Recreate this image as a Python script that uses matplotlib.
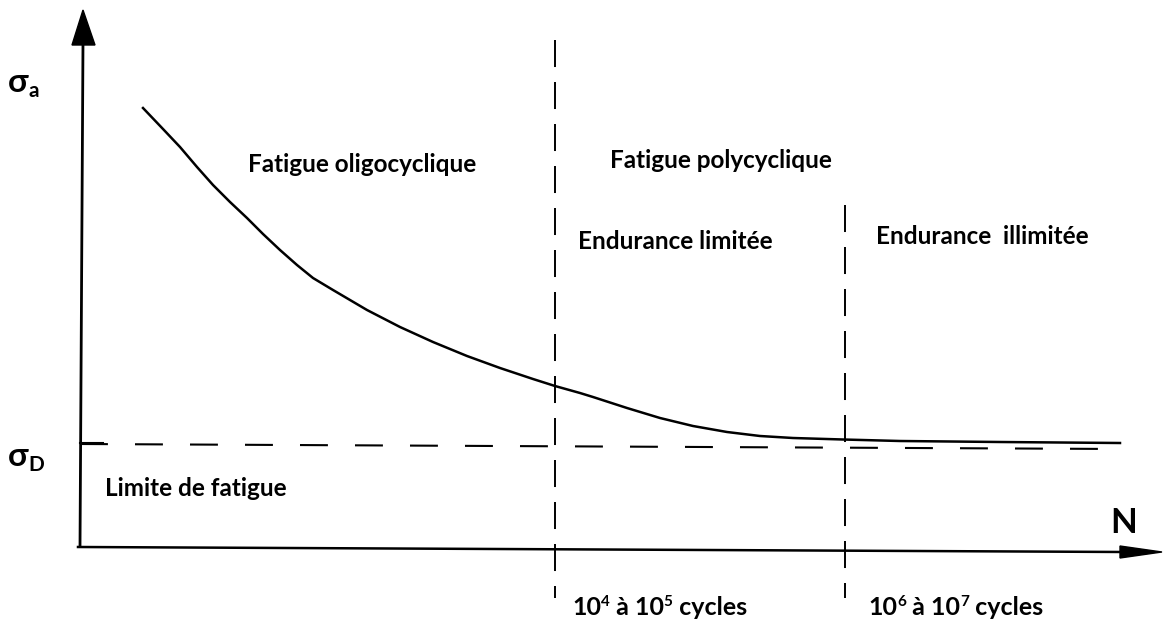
import matplotlib
matplotlib.use("Agg")
import matplotlib.pyplot as plt
from matplotlib.patches import Polygon

# ---- data (schematic coordinates, y grows downward) ----
curve_x = [143, 163, 180, 197, 213, 230, 247, 263, 280, 297, 313, 333, 350, 367, 400, 433,
           467, 500, 533, 555, 580, 593, 627, 660, 693, 727, 760, 793, 843, 900, 1000, 1120]
curve_y = [108, 129, 147, 167, 185, 202, 218, 234, 250, 265, 278, 290, 300, 310, 327, 342,
           356, 368, 379, 386, 393, 397, 408, 418, 426, 432, 436, 438, 439.5, 441, 442, 443]
limit_x = [80, 1120]
limit_y = [444, 449]
boundaries_x = [555, 845]
boundaries_top = [40, 205]
region_labels = ["Fatigue oligocyclique", "Fatigue polycyclique",
                 "Endurance limitée", "Endurance  illimitée", "Limite de fatigue"]

FONT = "Lato"
W, H = 1166, 620
fig = plt.figure(figsize=(W / 100, H / 100), dpi=100)
ax = fig.add_axes([0, 0, 1, 1])
ax.set_xlim(0, W)
ax.set_ylim(H, 0)
ax.axis("off")

# axes
ax.plot([80, 83], [547, 42], color="black", lw=2.0, solid_capstyle="butt")
ax.add_patch(Polygon([[83, 10], [72, 45], [95, 45]], closed=True, color="black"))
ax.plot([78, 1125], [547, 552], color="black", lw=1.8)
ax.add_patch(Polygon([[1162, 552], [1120, 546], [1120, 558]], closed=True, color="black"))
ax.plot([80, 103], [443, 443], color="black", lw=1.5)

# curve
ax.plot(curve_x, curve_y, color="black", lw=1.8, solid_joinstyle="round")

# fatigue limit (dashed)
ax.plot(limit_x, limit_y, color="black", lw=1.5, dashes=(13.4, 13))

# region boundaries (dashed verticals)
for bx, top in zip(boundaries_x, boundaries_top):
    ax.plot([bx, bx], [top, 598], color="black", lw=1.4, dashes=(13.9, 7.7))

fig.canvas.draw()
renderer = fig.canvas.get_renderer()


def rich(x, y, parts):
    """Draw a sequence of (text, size, dy) segments from left x, baseline y."""
    for txt, size, dy in parts:
        t = ax.text(x, y + dy, txt, fontsize=size, fontweight="bold",
                    family=FONT, va="baseline", ha="left", color="black")
        bb = t.get_window_extent(renderer)
        x += bb.width


kw = dict(fontsize=17.5, fontweight="bold", family=FONT, va="baseline", ha="left")
ax.text(248, 172, region_labels[0], **kw)
ax.text(610, 168, region_labels[1], **kw)
ax.text(578, 249, region_labels[2], **kw)
ax.text(876, 244, region_labels[3], **kw)
ax.text(105, 496, region_labels[4], **kw)
ax.text(1110, 533, "N", fontsize=25, fontweight="bold", family=FONT, va="baseline", ha="left")

rich(8, 92, [("σ", 24, 0), ("a", 15, 5)])
rich(8, 466, [("σ", 24, 0), ("D", 15, 5)])
rich(572, 615, [("10", 18, 0), ("4", 11, -9), (" à 10", 18, 0), ("5", 11, -9), (" cycles", 18, 0)])
rich(868, 615, [("10", 18, 0), ("6", 11, -9), (" à 10", 18, 0), ("7", 11, -9), (" cycles", 18, 0)])

fig.savefig("out.png", dpi=100, facecolor="white")
